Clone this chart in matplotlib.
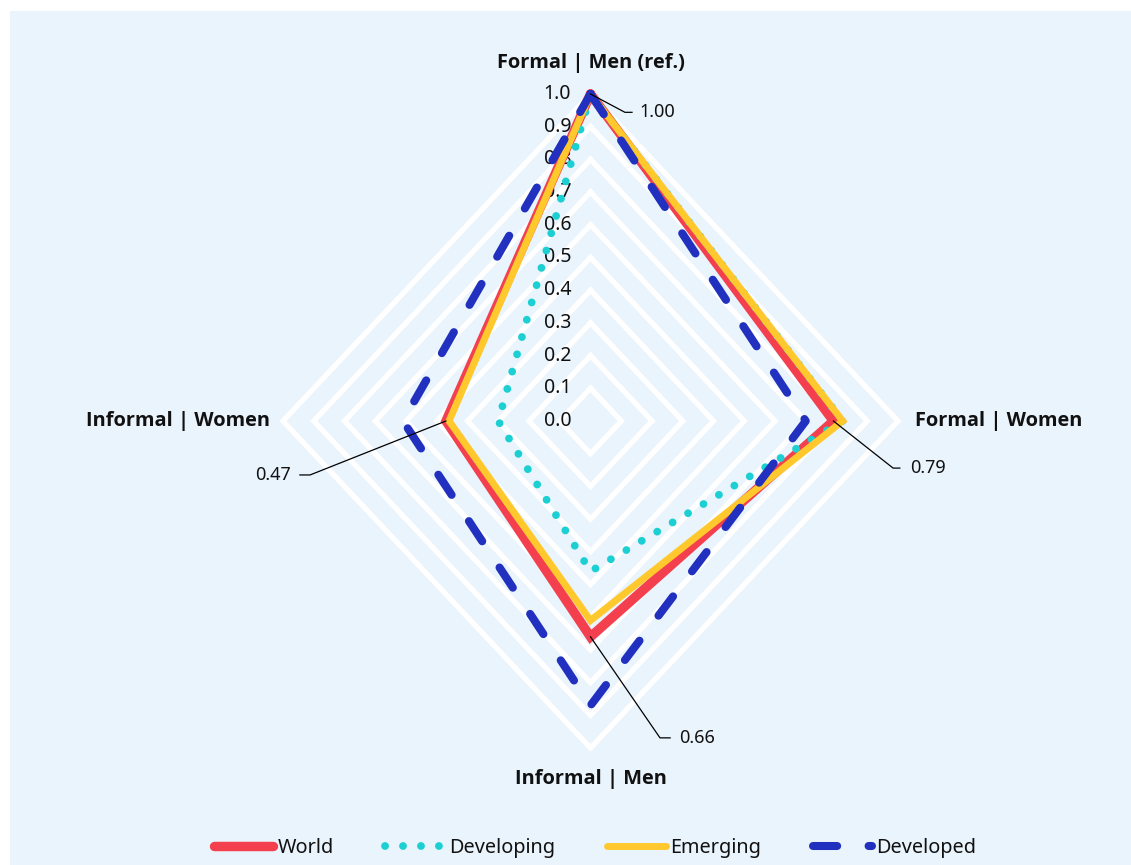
import numpy as np
import matplotlib
matplotlib.use("Agg")
import matplotlib.pyplot as plt
from matplotlib.patches import Rectangle

plt.rcParams['font.family'] = ['Noto Sans', 'DejaVu Sans']

categories = ["Formal | Men (ref.)", "Formal | Women", "Informal | Men", "Informal | Women"]
series_names = ["World", "Developing", "Emerging", "Developed"]
world = [1.00, 0.79, 0.66, 0.47]
developing = [1.00, 0.82, 0.46, 0.30]
emerging = [1.00, 0.82, 0.61, 0.46]
developed = [1.00, 0.70, 0.87, 0.61]
tick_values = [0.0, 0.1, 0.2, 0.3, 0.4, 0.5, 0.6, 0.7, 0.8, 0.9, 1.0]
tick_labels = ["0.0", "0.1", "0.2", "0.3", "0.4", "0.5", "0.6", "0.7", "0.8", "0.9", "1.0"]

W, H = 1131, 865
cx, cy = 590.5, 421.0
rx, ry = 307.5, 327.0

fig = plt.figure(figsize=(W / 100, H / 100), dpi=100)
fig.patch.set_facecolor("white")

ax = fig.add_axes([0, 0, 1, 1])
ax.set_facecolor("none")
ax.set_xlim(-cx / rx, (W - cx) / rx)
ax.set_ylim(-(H - cy) / ry, cy / ry)
ax.axis("off")
ax.add_patch(Rectangle((10 / W, 0), 1 - 10 / W, 1 - 11 / H, transform=fig.transFigure,
                       facecolor="#EAF4FD", edgecolor="none", zorder=0, clip_on=False))

n = len(categories)
angles = np.arange(n) * 2 * np.pi / n  # clockwise from top


def xy(vals):
    v = np.asarray(vals, dtype=float)
    x = v * np.sin(angles)
    y = v * np.cos(angles)
    return np.append(x, x[0]), np.append(y, y[0])


# grid diamonds
for t in tick_values[1:]:
    gx, gy = xy([t] * n)
    ax.plot(gx, gy, color="white", lw=3.8, solid_joinstyle="miter", zorder=1)

# tick labels
for t, lab in zip(tick_values, tick_labels):
    ax.text(-0.063, t, lab, ha="right", va="center", fontsize=14, color="#111111", zorder=2)

# series
styles = {
    "World": dict(color="#F43F4E", lw=6.8, ls="-", solid_joinstyle="miter", solid_capstyle="round"),
    "Developing": dict(color="#1BCFD2", lw=5.6, ls=(0, (0.01, 2.3)), dash_capstyle="round"),
    "Emerging": dict(color="#FFC82C", lw=5.0, ls="-", solid_joinstyle="miter", solid_capstyle="round"),
    "Developed": dict(color="#2130BE", lw=5.8, ls=(0, (3.0, 3.9)), dash_capstyle="round"),
}
data = {"World": world, "Developing": developing, "Emerging": emerging, "Developed": developed}
handles = []
for name in series_names:
    sx, sy = xy(data[name])
    h, = ax.plot(sx, sy, label=name, zorder=3, **styles[name])
    handles.append(h)

# axis labels
bold = dict(fontsize=14.4, fontweight="bold", color="#111111", family=["Open Sans", "DejaVu Sans"])
ax.text(0.0, 1.095, categories[0], ha="center", va="center", **bold)
ax.text(1.055, 0.0, categories[1], ha="left", va="center", **bold)
ax.text(0.0, -1.095, categories[2], ha="center", va="center", **bold)
ax.text(-1.042, 0.0, categories[3], ha="right", va="center", **bold)

# value annotations (World)
wx, wy = xy(world)
ann = [
    (0, (0.112, 0.944), (0.135, 0.944), (0.160, 0.944), "left"),
    (1, (0.984, -0.144), (1.006, -0.144), (1.040, -0.144), "left"),
    (2, (0.226, -0.969), (0.259, -0.969), (0.288, -0.969), "left"),
    (3, (-0.912, -0.165), (-0.945, -0.165), (-0.975, -0.165), "right"),
]
for i, el, en, tp, ha in ann:
    ax.plot([wx[i], el[0], en[0]], [wy[i], el[1], en[1]], color="black", lw=0.9, zorder=5)
    ax.text(tp[0], tp[1], f"{world[i]:.2f}", ha=ha, va="center", fontsize=13, color="#111111", zorder=5)

leg = fig.legend(handles=handles, labels=series_names, loc="center",
                 bbox_to_anchor=(595 / W, 1 - 848 / H), ncol=4, frameon=False,
                 fontsize=14.3, handlelength=3.0, handletextpad=0.2, columnspacing=2.6)
for t in leg.get_texts():
    t.set_color("#111111")

fig.savefig("out.png", dpi=100)
